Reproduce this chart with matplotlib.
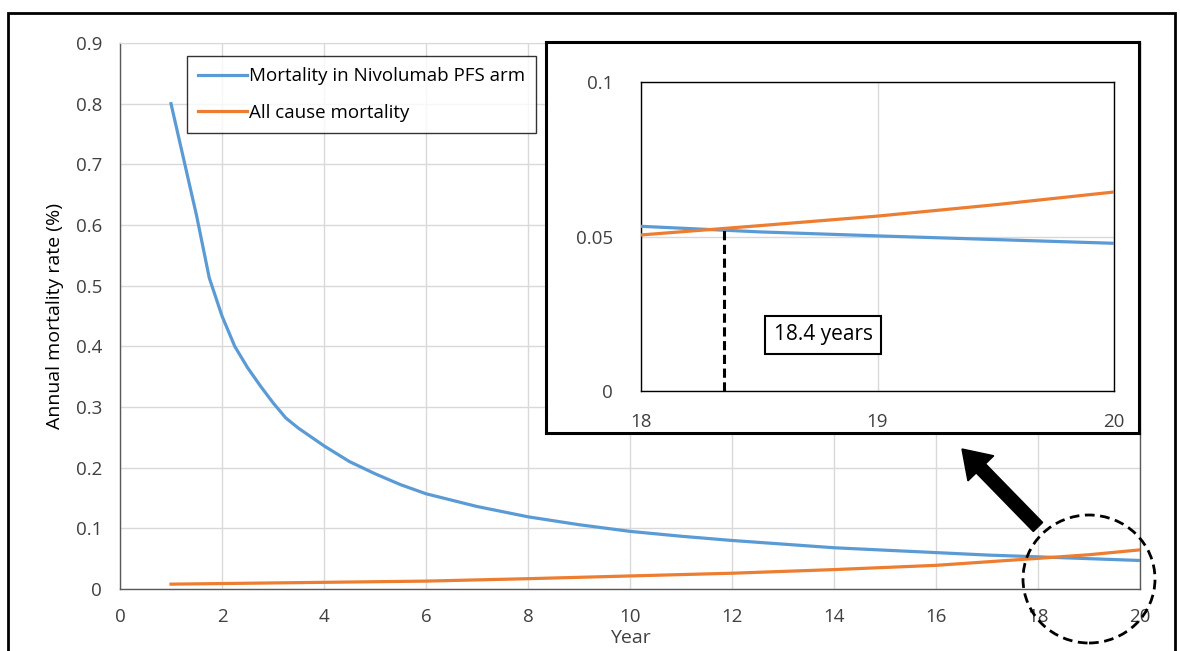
import matplotlib
matplotlib.use("Agg")
import matplotlib.pyplot as plt
from matplotlib.patches import Rectangle, Ellipse, FancyArrow

plt.rcParams['font.family'] = ['Open Sans', 'DejaVu Sans']

# ---- data ----
years_blue = [1, 1.5, 1.75, 2, 2.25, 2.5, 2.75, 3, 3.25, 3.5, 4, 4.5, 5, 5.5, 6, 7, 8, 9, 10,
              11, 12, 13, 14, 15, 16, 17, 18, 19, 20]
mort_nivolumab = [0.80, 0.616, 0.513, 0.450, 0.400, 0.365, 0.335, 0.307, 0.282, 0.265, 0.236,
                  0.210, 0.190, 0.172, 0.157, 0.136, 0.119, 0.106, 0.095, 0.087, 0.080, 0.074,
                  0.068, 0.064, 0.060, 0.056, 0.053, 0.050, 0.047]
years_orange = [1, 2, 4, 6, 8, 10, 12, 14, 16, 18, 19, 20]
mort_allcause = [0.008, 0.009, 0.011, 0.013, 0.017, 0.0215, 0.026, 0.032, 0.039, 0.0505, 0.0565, 0.0645]

inset_years = [18, 18.5, 19, 19.5, 20]
inset_nivolumab = [0.0533, 0.0515, 0.0502, 0.0490, 0.0478]
inset_allcause = [0.0505, 0.0535, 0.0566, 0.0603, 0.0644]

crossover_year = 18.35
crossover_rate = 0.0524
crossover_label = "18.4 years"

main_xticks = list(range(0, 21, 2))
main_yticks = [0, 0.1, 0.2, 0.3, 0.4, 0.5, 0.6, 0.7, 0.8, 0.9]
inset_xticks = [18, 19, 20]
inset_yticks = [0, 0.05, 0.1]
inset_yticklabels = ["0", "0.05", "0.1"]

BLUE = "#5B9BD5"
ORANGE = "#ED7D31"
GRID = "#D9D9D9"
TXT = "#404040"

W, H = 1180, 651
fig = plt.figure(figsize=(W / 100, H / 100), dpi=100)

def fx(px):
    return px / W

def fy(py):
    return 1 - py / H

# ---- main axes ----
ax = fig.add_axes([fx(120), fy(589), fx(1140) - fx(120), fy(43) - fy(589)])
ax.plot(years_blue, mort_nivolumab, color=BLUE, lw=2.3, label="Mortality in Nivolumab PFS arm", zorder=3)
ax.plot(years_orange, mort_allcause, color=ORANGE, lw=2.3, label="All cause mortality", zorder=3)
ax.set_xlim(0, 20)
ax.set_ylim(0, 0.9)
ax.set_xticks(main_xticks)
ax.set_yticks(main_yticks)
ax.set_yticklabels(["0" if v == 0 else f"{v:g}" for v in main_yticks])
ax.grid(True, color=GRID, lw=1)
ax.set_axisbelow(True)
ax.tick_params(length=0, labelsize=13.5, colors=TXT)
ax.tick_params(axis='x', pad=14)
ax.tick_params(axis='y', pad=13)
for s in ["left", "bottom", "right"]:
    ax.spines[s].set_color("#595959")
    ax.spines[s].set_linewidth(1)
ax.spines["top"].set_color(GRID)
ax.set_ylabel("Annual mortality rate (%)", fontsize=14, color="black", labelpad=8)
ax.set_xlabel("Year", fontsize=14, color=TXT, labelpad=2)

leg = ax.legend(loc="upper left", bbox_to_anchor=((187 - 120) / 1020, (589 - 56) / 546),
                frameon=True, fancybox=False, fontsize=13.5, handlelength=2.6,
                handletextpad=0.1, borderpad=0.6, labelspacing=1.0, borderaxespad=0)
leg.get_frame().set_edgecolor("black")
leg.get_frame().set_linewidth(1)
for t in leg.get_texts():
    t.set_color("black")

# ---- inset frame ----
frame = fig.add_axes([fx(546), fy(433), fx(1139) - fx(546), fy(42) - fy(433)])
frame.set_xticks([])
frame.set_yticks([])
frame.set_facecolor("white")
for s in frame.spines.values():
    s.set_linewidth(2.2)
    s.set_color("black")

# ---- inset axes ----
ins = fig.add_axes([fx(641), fy(391), fx(1114) - fx(641), fy(82) - fy(391)])
ins.plot(inset_years, inset_nivolumab, color=BLUE, lw=2.3, zorder=3)
ins.plot(inset_years, inset_allcause, color=ORANGE, lw=2.3, zorder=3)
ins.plot([crossover_year, crossover_year], [0, crossover_rate], color="black", lw=2.2,
         ls=(0, (3, 1.5)), zorder=4)
ins.set_xlim(18, 20)
ins.set_ylim(0, 0.1)
ins.set_xticks(inset_xticks)
ins.set_yticks(inset_yticks)
ins.set_yticklabels(inset_yticklabels)
ins.grid(True, color=GRID, lw=1)
ins.set_axisbelow(True)
ins.tick_params(length=0, labelsize=13.5, colors=TXT)
ins.tick_params(axis='x', pad=16)
ins.tick_params(axis='y', pad=20)
for s in ins.spines.values():
    s.set_color("black")
    s.set_linewidth(1)
ins.text(18.77, 0.0182, crossover_label, fontsize=15, ha="center", va="center", color="black",
         bbox=dict(boxstyle="square,pad=0.4", fc="white", ec="black", lw=1.5), zorder=5)

# ---- annotations on the figure ----
ell = Ellipse((10.89, (H - 579) / 100), 1.32, 1.28, transform=fig.dpi_scale_trans,
              fill=False, ec="black", lw=2, ls=(0, (3.5, 2)), zorder=10)
fig.patches.append(ell)

arr = FancyArrow(10.38, (H - 527) / 100, 9.62 - 10.38, ((H - 449) - (H - 527)) / 100,
                 width=0.13, head_width=0.36, head_length=0.27, length_includes_head=True,
                 transform=fig.dpi_scale_trans, color="black", zorder=10)
fig.patches.append(arr)

border = Rectangle((0.08, -0.2), 11.67, 6.38 + 0.2, transform=fig.dpi_scale_trans,
                   fill=False, ec="black", lw=2, zorder=11)
fig.patches.append(border)

fig.savefig("out.png", dpi=100)
